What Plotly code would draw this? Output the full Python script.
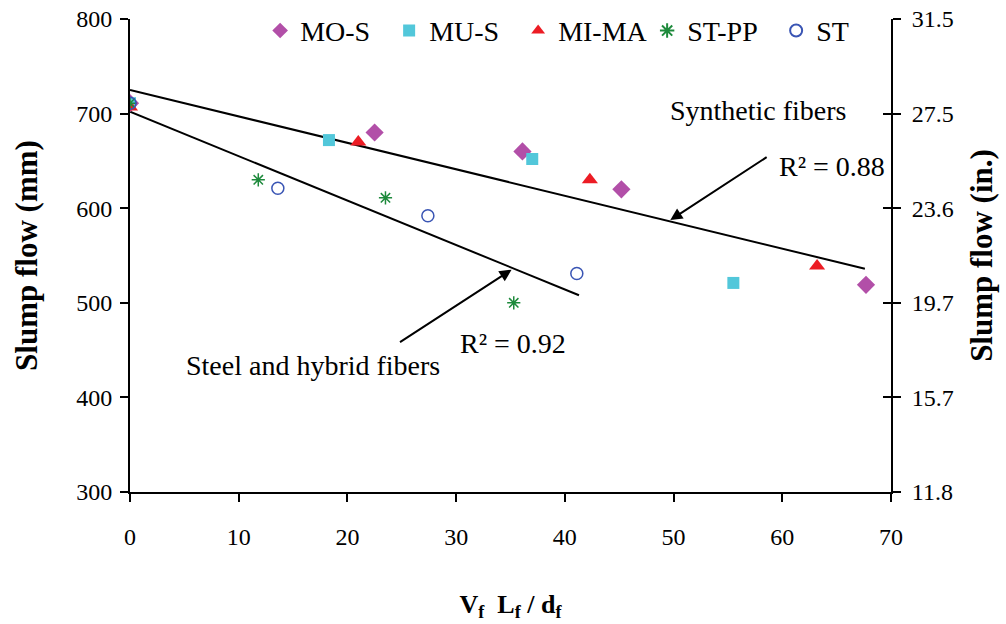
import plotly.graph_objects as go

# ---- data ----
mos_x = [0, 22.5, 36.1, 45.2, 67.7]
mos_y = [711, 680, 660, 620, 519]
mus_x = [0, 18.3, 37.0, 55.5]
mus_y = [711, 672, 652, 521]
mima_x = [0, 21.0, 42.3, 63.2]
mima_y = [707, 670, 630, 539]
stpp_x = [0, 11.8, 23.5, 35.3]
stpp_y = [711, 630, 611, 500]
st_x = [0, 13.6, 27.4, 41.1]
st_y = [711, 621, 592, 531]

syn_line_x = [0, 67.6]
syn_line_y = [725, 536]
steel_line_x = [0, 41.3]
steel_line_y = [702, 508]

x_ticks = [0, 10, 20, 30, 40, 50, 60, 70]
y_ticks_mm = [300, 400, 500, 600, 700, 800]
y_ticks_in_labels = ["11.8", "15.7", "19.7", "23.6", "27.5", "31.5"]

FONT = "Liberation Serif"
fig = go.Figure()

fig.add_trace(go.Scatter(x=syn_line_x, y=syn_line_y, mode="lines",
                         line=dict(color="black", width=2), showlegend=False, hoverinfo="skip"))
fig.add_trace(go.Scatter(x=steel_line_x, y=steel_line_y, mode="lines",
                         line=dict(color="black", width=2), showlegend=False, hoverinfo="skip"))

fig.add_trace(go.Scatter(x=mos_x, y=mos_y, mode="markers", name="MO-S",
                         marker=dict(symbol="diamond", size=14, color="#B24FA8")))
fig.add_trace(go.Scatter(x=mus_x, y=mus_y, mode="markers", name="MU-S",
                         marker=dict(symbol="square", size=12, color="#52C7DA")))
fig.add_trace(go.Scatter(x=mima_x, y=mima_y, mode="markers", name="MI-MA",
                         marker=dict(symbol="triangle-up", size=14, color="#EC1C24")))
fig.add_trace(go.Scatter(x=stpp_x, y=stpp_y, mode="markers", name="ST-PP",
                         marker=dict(symbol="asterisk-open", size=11, color="#1E8A3C",
                                     line=dict(color="#1E8A3C", width=1.5))))
fig.add_trace(go.Scatter(x=st_x, y=st_y, mode="markers", name="ST",
                         marker=dict(symbol="circle-open", size=12, color="#3A55B4",
                                     line=dict(color="#3A55B4", width=1.5))))

# invisible traces to host the right-hand axes
fig.add_trace(go.Scatter(x=[0], y=[300], yaxis="y2", mode="markers",
                         marker=dict(opacity=0), showlegend=False, hoverinfo="skip"))
fig.add_trace(go.Scatter(x=[0], y=[300], yaxis="y3", mode="markers",
                         marker=dict(opacity=0), showlegend=False, hoverinfo="skip"))

ann_font = dict(family=FONT, size=28, color="black")
annotations = [
    dict(x=57.8, y=703, xref="x", yref="y", text="Synthetic fibers", showarrow=False,
         font=ann_font, xanchor="center", yanchor="middle"),
    dict(x=59.5, y=644, xref="x", yref="y", text="R² = 0.88", showarrow=False,
         font=ann_font, xanchor="left", yanchor="middle"),
    dict(x=30.2, y=457.5, xref="x", yref="y", text="R² = 0.92", showarrow=False,
         font=ann_font, xanchor="left", yanchor="middle"),
    dict(x=16.8, y=434, xref="x", yref="y", text="Steel and hybrid fibers", showarrow=False,
         font=ann_font, xanchor="center", yanchor="middle"),
    dict(x=49.7, y=587.5, ax=58.7, ay=655, xref="x", yref="y", axref="x", ayref="y",
         text="", showarrow=True, arrowhead=2, arrowsize=1.2, arrowwidth=2, arrowcolor="black"),
    dict(x=35.1, y=535, ax=24.7, ay=457.5, xref="x", yref="y", axref="x", ayref="y",
         text="", showarrow=True, arrowhead=2, arrowsize=1.2, arrowwidth=2, arrowcolor="black"),
]

tick_font = dict(family=FONT, size=24, color="black")
ytitle_font = dict(family=FONT, size=31, color="black")
xtitle_font = dict(family=FONT, size=26, color="black")

fig.update_layout(
    width=1006, height=624,
    margin=dict(l=130, r=115, t=19, b=132, autoexpand=False),
    paper_bgcolor="white", plot_bgcolor="white",
    showlegend=True,
    legend=dict(orientation="h", x=0.171, y=0.975, xanchor="left", yanchor="middle",
                font=dict(family=FONT, size=28, color="black"), bgcolor="rgba(0,0,0,0)",
                itemsizing="constant", entrywidth=84, entrywidthmode="pixels"),
    xaxis=dict(range=[0, 70], tickvals=x_ticks, showgrid=False, zeroline=False,
               showline=True, linecolor="black", linewidth=2, ticks="outside",
               ticklen=8, tickwidth=2, tickcolor="black", tickfont=tick_font,
               ticklabelstandoff=14,
               title=dict(text="<b>V<sub>f</sub>  L<sub>f</sub> / d<sub>f</sub></b>",
                          font=xtitle_font, standoff=46)),
    yaxis=dict(range=[300, 800], tickvals=y_ticks_mm, showgrid=False, zeroline=False,
               showline=True, linecolor="black", linewidth=2, ticks="outside",
               ticklen=8, tickwidth=2, tickcolor="black", tickfont=tick_font,
               ticklabelstandoff=3,
               title=dict(text="<b>Slump flow (mm)</b>", font=ytitle_font, standoff=29)),
    yaxis2=dict(range=[300, 800], tickvals=y_ticks_mm, ticktext=y_ticks_in_labels,
                overlaying="y", side="right", showgrid=False, zeroline=False,
                showline=True, linecolor="black", linewidth=2, ticks="outside",
                ticklen=8, tickwidth=2, tickcolor="black", tickfont=tick_font,
                ticklabelstandoff=6,
                title=dict(text="<b>Slump flow (in.)</b>", font=ytitle_font, standoff=18)),
    yaxis3=dict(range=[300, 800], tickvals=y_ticks_mm, overlaying="y", side="right",
                showgrid=False, zeroline=False, showline=False, ticks="inside",
                ticklen=8, tickwidth=2, tickcolor="black", showticklabels=False),
    annotations=annotations,
)

fig.write_html("out.html")
